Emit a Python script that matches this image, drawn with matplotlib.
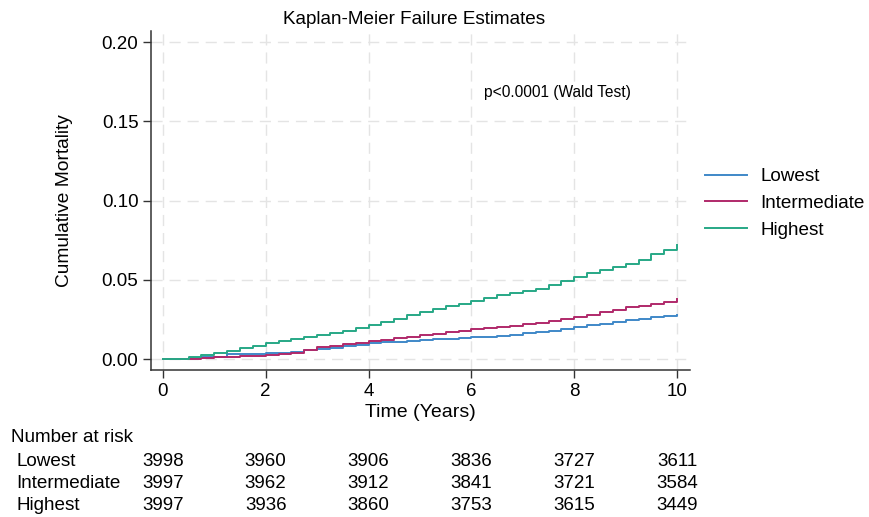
import matplotlib
matplotlib.use("Agg")
import matplotlib.pyplot as plt
import matplotlib.transforms as mtransforms

plt.rcParams['font.family'] = ['Liberation Sans', 'DejaVu Sans']

# ---- data ----
time = [0, 0.25, 0.5, 0.75, 1.0, 1.25, 1.5, 1.75, 2.0, 2.25, 2.5, 2.75, 3.0, 3.25,
        3.5, 3.75, 4.0, 4.25, 4.5, 4.75, 5.0, 5.25, 5.5, 5.75, 6.0, 6.25, 6.5,
        6.75, 7.0, 7.25, 7.5, 7.75, 8.0, 8.25, 8.5, 8.75, 9.0, 9.25, 9.5, 9.75, 10.0]

lowest = [0, 0, 0.0005, 0.0010, 0.0016, 0.0030, 0.0032, 0.0034, 0.0036, 0.0041,
          0.0046, 0.0055, 0.0063, 0.0072, 0.0080, 0.0090, 0.0099, 0.0105, 0.0110,
          0.0115, 0.0120, 0.0124, 0.0128, 0.0132, 0.0137, 0.0142, 0.0146, 0.0152,
          0.0162, 0.0170, 0.0180, 0.0190, 0.0200, 0.0212, 0.0223, 0.0235, 0.0246,
          0.0255, 0.0263, 0.0271, 0.0277]

intermediate = [0, 0, 0.0003, 0.0006, 0.0010, 0.0013, 0.0017, 0.0021, 0.0025, 0.0030,
                0.0038, 0.0055, 0.0075, 0.0085, 0.0093, 0.0103, 0.0114, 0.0123, 0.0133,
                0.0142, 0.0151, 0.0160, 0.0169, 0.0178, 0.0187, 0.0196, 0.0203, 0.0210,
                0.0219, 0.0229, 0.0240, 0.0251, 0.0263, 0.0278, 0.0295, 0.0311, 0.0326,
                0.0336, 0.0347, 0.0363, 0.0381]

highest = [0, 0, 0.0013, 0.0025, 0.0036, 0.0052, 0.0067, 0.0083, 0.0099, 0.0113,
           0.0126, 0.0137, 0.0150, 0.0163, 0.0180, 0.0198, 0.0215, 0.0234, 0.0255,
           0.0276, 0.0298, 0.0315, 0.0333, 0.0350, 0.0368, 0.0386, 0.0403, 0.0418,
           0.0429, 0.0445, 0.0465, 0.0493, 0.0519, 0.0540, 0.0562, 0.0580, 0.0599,
           0.0625, 0.0660, 0.0690, 0.0719]

group_names = ['Lowest', 'Intermediate', 'Highest']
risk_times = [0, 2, 4, 6, 8, 10]
risk_lowest = [3998, 3960, 3906, 3836, 3727, 3611]
risk_intermediate = [3997, 3962, 3912, 3841, 3721, 3584]
risk_highest = [3997, 3936, 3860, 3753, 3615, 3449]

colors = ['#3f88c8', '#b0296a', '#27a886']

# ---- figure ----
fig = plt.figure(figsize=(8.69, 5.17), dpi=100)
ax = fig.add_axes([151/869, 1 - 370/517, (690 - 151)/869, (370 - 31)/517])

for y, c, name in zip([lowest, intermediate, highest], colors, group_names):
    ax.plot(time, y, drawstyle='steps-post', color=c, lw=1.4, label=name)

ax.set_xlim(-0.23, 10.25)
ax.set_ylim(-0.0069, 0.207)
ax.set_xticks([0, 2, 4, 6, 8, 10])
ax.set_yticks([0.0, 0.05, 0.10, 0.15, 0.20])
ax.set_yticklabels(['0.00', '0.05', '0.10', '0.15', '0.20'])
ax.grid(True, color='#e4e4e4', linestyle=(0, (8, 5)), lw=1)
ax.set_axisbelow(True)
for s in ['top', 'right']:
    ax.spines[s].set_visible(False)
for s in ['left', 'bottom']:
    ax.spines[s].set_color('#333333')
    ax.spines[s].set_linewidth(1.1)
ax.tick_params(direction='out', length=6, width=1, color='#333333',
               labelsize=13.5, pad=3)

ax.set_xlabel('Time (Years)', fontsize=14, labelpad=3)
ax.set_ylabel('Cumulative Mortality', fontsize=13.8, labelpad=21)
ax.set_title('Kaplan-Meier Failure Estimates', fontsize=13.6, pad=5, x=0.488)

ax.text(0.618, 0.82, 'p<0.0001 (Wald Test)', transform=ax.transAxes,
        fontsize=11.2, ha='left', va='center')

leg = ax.legend(loc='upper left', bbox_to_anchor=(705/869, 1 - 168/517),
                bbox_transform=fig.transFigure, borderaxespad=0, borderpad=0,
                frameon=False, fontsize=13.6, handlelength=2.2,
                handletextpad=0.72, labelspacing=0.5)

# ---- number at risk table ----
fig.text(11/869, 1 - 438/517, 'Number at risk', fontsize=13.6, ha='left', va='center')
trans = mtransforms.blended_transform_factory(ax.transData, fig.transFigure)
row_y = [462, 484, 506]
for name, counts, ypx in zip(group_names,
                             [risk_lowest, risk_intermediate, risk_highest], row_y):
    yf = 1 - ypx/517
    fig.text(16/869, yf, name, fontsize=13.6, ha='left', va='center')
    for t, n in zip(risk_times, counts):
        ax.text(t, yf, str(n), transform=trans, fontsize=13.5,
                ha='center', va='center', clip_on=False)

fig.savefig('out.png', dpi=100)
